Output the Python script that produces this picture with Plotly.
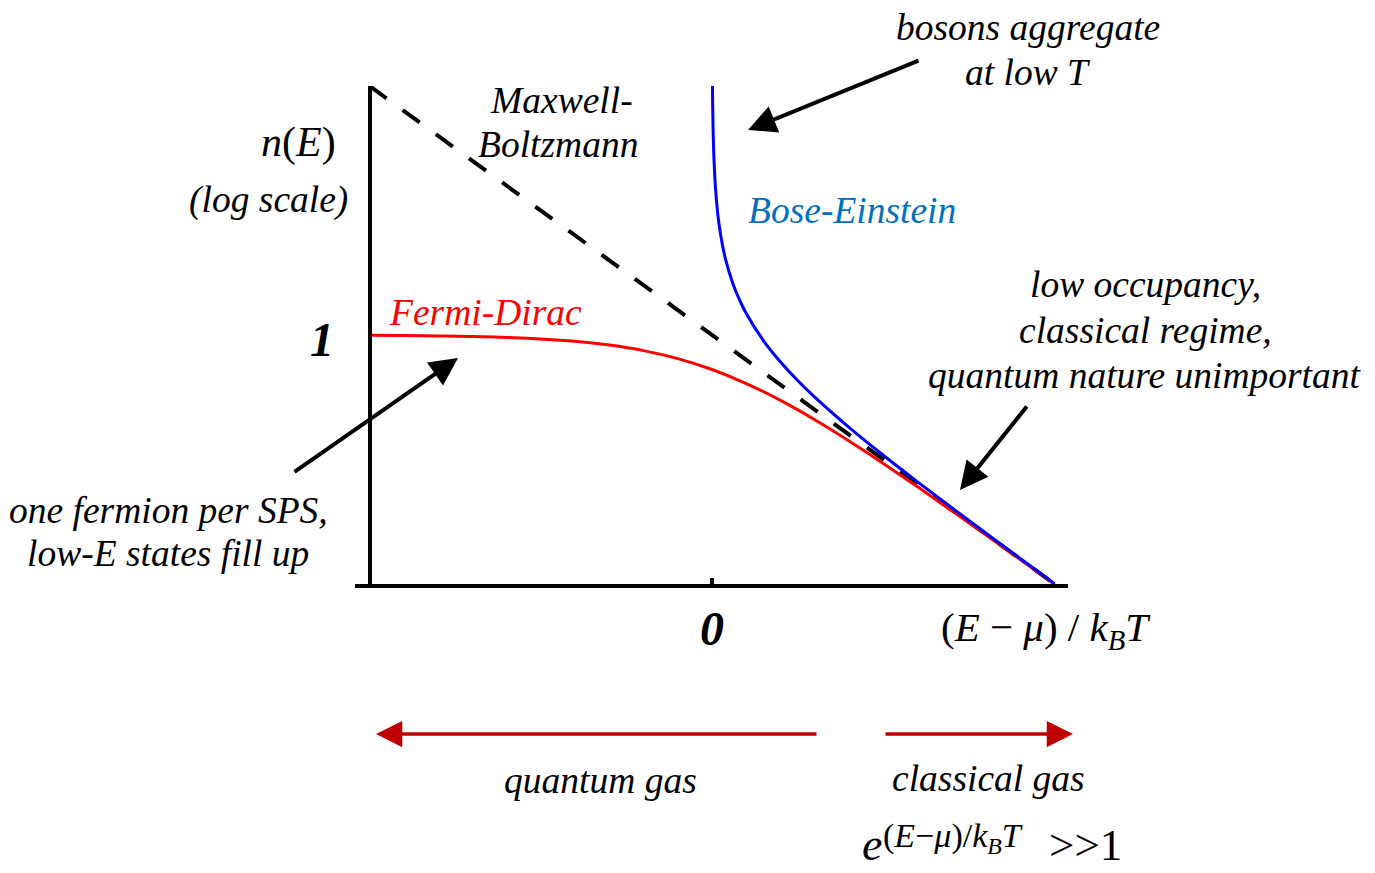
import plotly.graph_objects as go

# ---- data (x = (E-mu)/kT, n = occupancy, plotted on a log axis) ----
mb_x = [-5.0, 5.0]
mb_n = [148.41, 0.006738]

fd_x = [-5.0, -4.0, -3.0, -2.0, -1.5, -1.0, -0.5, 0.0, 0.5, 1.0, 1.5, 2.0, 2.5, 3.0, 3.5, 4.0, 4.5, 5.0]
fd_n = [0.9933, 0.982, 0.9526, 0.8808, 0.8176, 0.7311, 0.6225, 0.5, 0.3775, 0.2689, 0.1824,
        0.1192, 0.0759, 0.0474, 0.0293, 0.0180, 0.0110, 0.00669]

be_x = [0.0067, 0.01, 0.015, 0.02, 0.03, 0.05, 0.075, 0.1, 0.15, 0.2, 0.3, 0.4, 0.5, 0.75,
        1.0, 1.25, 1.5, 2.0, 2.5, 3.0, 3.5, 4.0, 4.5, 5.0]
be_n = [148.8, 99.5, 66.17, 49.5, 32.84, 19.5, 12.84, 9.508, 6.179, 4.517, 2.858, 2.033, 1.541,
        0.8953, 0.582, 0.4016, 0.2872, 0.1565, 0.0894, 0.0524, 0.03114, 0.01866, 0.01123, 0.006784]

W, H = 1375, 873
FONT = "Liberation Serif"
LS = 37.5  # label font size


def px(x):
    return x / W


def py(y):
    return 1 - y / H


fig = go.Figure()
fig.add_trace(go.Scatter(x=mb_x, y=mb_n, mode="lines",
                         line=dict(color="black", width=4, dash="21px,20px"),
                         showlegend=False, hoverinfo="skip"))
fig.add_trace(go.Scatter(x=fd_x, y=fd_n, mode="lines", line_shape="spline",
                         line=dict(color="#ff0000", width=3), showlegend=False))
fig.add_trace(go.Scatter(x=be_x, y=be_n, mode="lines", line_shape="spline",
                         line=dict(color="#0000ff", width=3), showlegend=False))

annotations = []


def text(s, x, y, size=LS, color="black", xanchor="center", yanchor="middle"):
    annotations.append(dict(text=s, x=px(x), y=py(y), xref="paper", yref="paper",
                            xanchor=xanchor, yanchor=yanchor, showarrow=False,
                            font=dict(family=FONT, size=size, color=color)))


def arrow(tx, ty, hx, hy, color="black", width=4, size=1.4):
    annotations.append(dict(text="", x=px(hx), y=py(hy), xref="paper", yref="paper",
                            ax=tx - hx, ay=ty - hy, axref="pixel", ayref="pixel",
                            showarrow=True, arrowhead=2, arrowsize=size,
                            arrowwidth=width, arrowcolor=color, standoff=0, startstandoff=0))


text("<i>n</i>(<i>E</i>)", 298, 143, 42)
text("<i>(log scale)</i>", 268, 200, LS)
text("<b><i>1</i></b>", 322, 340, 48)
text("<b><i>0</i></b>", 712, 628, 48)
text("(<i>E</i> \u2212 <i>\u03bc</i>) / <i>k<sub>B</sub>T</i>", 1046, 630, 41)
text("<i>Maxwell-</i>", 561, 100)
text("<i>Boltzmann</i>", 558, 145)
text("<i>Bose-Einstein</i>", 852, 210, LS, "#0070c0")
text("<i>Fermi-Dirac</i>", 485, 312, LS, "#ff0000")
text("<i>bosons aggregate</i>", 1028, 28)
text("<i>at low T</i>", 1028, 72)
text("<i>low occupancy,</i>", 1145, 285)
text("<i>classical regime,</i>", 1145, 330)
text("<i>quantum nature unimportant</i>", 1145, 375)
text("<i>one fermion per SPS,</i>", 168, 510)
text("<i>low-E states fill up</i>", 168, 553)
text("<i>quantum gas</i>", 600, 780)
text("<i>classical gas</i>", 988, 778)
text("<i>e</i>", 872, 872, 46, yanchor="bottom")
text("(<i>E</i>\u2212<i>\u03bc</i>)/<i>k<sub>B</sub>T</i>", 881, 838, 34, xanchor="left")
text("&gt;&gt;1", 1085, 872, 45, yanchor="bottom")

arrow(920, 60, 748, 130)
arrow(293, 473, 458, 358)
arrow(1028, 405, 960, 490)
arrow(818, 734, 376, 734, "#c00000", 3.5, 1.5)
arrow(884, 734, 1073, 734, "#c00000", 3.5, 1.5)

fig.update_layout(
    width=W, height=H, margin=dict(l=0, r=0, t=0, b=0),
    paper_bgcolor="white", plot_bgcolor="white",
    annotations=annotations,
    xaxis=dict(domain=[355 / W, 1068 / W], range=[-5.212, 5.197], showline=True,
               linewidth=4, linecolor="black", showgrid=False, zeroline=False,
               tickvals=[0], ticks="inside", ticklen=6, tickwidth=4, tickcolor="black",
               showticklabels=False),
    yaxis=dict(domain=[1 - 584 / H, 1 - 86 / H], type="log", range=[-2.1715, 2.1715],
               anchor="free", position=370 / W, showline=True, linewidth=4,
               linecolor="black", showgrid=False, zeroline=False, ticks="",
               showticklabels=False),
)

fig.write_html("out.html")
